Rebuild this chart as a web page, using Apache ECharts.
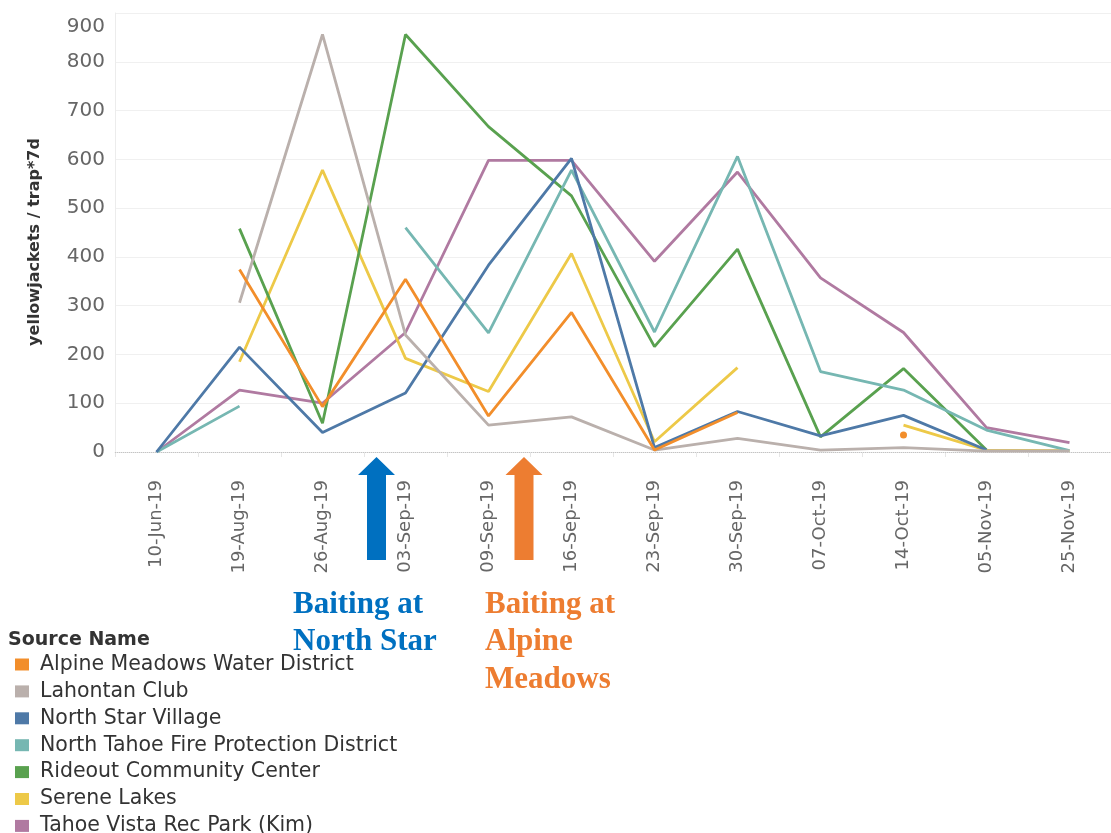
<!DOCTYPE html>
<html>
<head>
<meta charset="utf-8">
<script src="https://cdn.jsdelivr.net/npm/echarts@6/dist/echarts.min.js"></script>
<style>
  html, body { margin: 0; padding: 0; background: #fff; }
  #chart { width: 1111px; height: 833px; }
</style>
</head>
<body>
<div id="chart"></div>
<script>
// week labels
const categories = ['10-Jun-19', '19-Aug-19', '26-Aug-19', '03-Sep-19', '09-Sep-19', '16-Sep-19',
  '23-Sep-19', '30-Sep-19', '07-Oct-19', '14-Oct-19', '05-Nov-19', '25-Nov-19'];

// yellowjackets / trap*7d per site (null = no sample)
const alpineMeadows = [null, 374, 93, 354, 74, 286, 4, 81, null, 35, null, null];
const lahontanClub = [null, 306, 856, 240, 55, 72, 4, 28, 4, 9, 2, 2];
const northStar = [0, 215, 40, 121, 383, 602, 9, 83, 33, 75, 4, null];
const northTahoeFire = [0, 94, null, 460, 244, 578, 246, 606, 165, 127, 45, 3];
const rideout = [null, 458, 59, 856, 667, 525, 216, 416, 31, 171, 4, null];
const sereneLakes = [null, 185, 578, 192, 124, 407, 21, 173, null, 55, 4, 3];
const tahoeVista = [0, 127, 100, 245, 598, 598, 391, 574, 357, 245, 50, 19];

const yTicks = [0, 100, 200, 300, 400, 500, 600, 700, 800, 900];

const sites = [
  { name: 'Alpine Meadows Water District', color: '#F28E2B', values: alpineMeadows },
  { name: 'Lahontan Club', color: '#BAB0AC', values: lahontanClub },
  { name: 'North Star Village', color: '#4E79A7', values: northStar },
  { name: 'North Tahoe Fire Protection District', color: '#76B7B2', values: northTahoeFire },
  { name: 'Rideout Community Center', color: '#59A14F', values: rideout },
  { name: 'Serene Lakes', color: '#EDC948', values: sereneLakes },
  { name: 'Tahoe Vista Rec Park (Kim)', color: '#B07AA1', values: tahoeVista }
];

const font = 'DejaVu Sans';
const serif = '"Liberation Serif", "Times New Roman", serif';

// only lone points (no neighbour on either side) get a dot
function toData(vals) {
  return vals.map((v, i) => {
    const lone = v != null && vals[i - 1] == null && vals[i + 1] == null;
    return { value: v, symbol: lone ? 'circle' : 'none' };
  });
}

const series = sites.map((s, i) => ({
  name: s.name,
  type: 'line',
  data: toData(s.values),
  color: s.color,
  z: 10 - i,
  symbol: 'circle',
  symbolSize: 7,
  showSymbol: true,
  connectNulls: false,
  lineStyle: { width: 2.8, color: s.color },
  itemStyle: { color: s.color },
  emphasis: { disabled: true }
}));

series[0].markLine = {
  silent: true,
  symbol: ['none', 'none'],
  label: { show: false },
  lineStyle: { type: 'dotted', color: '#c4c4c4', width: 1 },
  data: [{ yAxis: 0 }]
};

const chart = echarts.init(document.getElementById('chart'));
chart.setOption({
  animation: false,
  backgroundColor: '#fff',
  grid: { left: 115, right: -16, top: 13, bottom: 381 },
  title: {
    text: 'Source Name',
    left: 3,
    top: 626,
    textStyle: { fontFamily: font, fontSize: 19, fontWeight: 'bold', color: '#333' }
  },
  legend: {
    orient: 'vertical',
    left: 10,
    top: 649,
    height: 200,
    icon: 'rect',
    itemWidth: 14,
    itemHeight: 12,
    itemGap: 5.9,
    selectedMode: false,
    data: sites.map(s => s.name),
    textStyle: { fontFamily: font, fontSize: 20.5, color: '#333', lineHeight: 20, padding: [0, 0, 0, 6] }
  },
  xAxis: {
    type: 'category',
    data: categories,
    boundaryGap: true,
    offset: 21,
    axisLine: { show: true, lineStyle: { color: '#e6e6e6' } },
    axisTick: { show: true, length: 5, lineStyle: { color: '#e6e6e6' } },
    axisLabel: {
      rotate: 90,
      interval: 0,
      margin: 7,
      fontFamily: font,
      fontSize: 18,
      color: '#666'
    },
    splitLine: { show: false }
  },
  yAxis: {
    type: 'value',
    min: yTicks[0],
    max: yTicks[yTicks.length - 1],
    interval: 100,
    axisLine: { show: true, lineStyle: { color: '#ececec' } },
    axisTick: { show: false },
    axisLabel: {
      margin: 10,
      fontFamily: font,
      fontSize: 20,
      color: '#666',
      formatter: v => (v === 900 ? '{top|900}' : String(v)),
      rich: { top: { fontFamily: font, fontSize: 20, color: '#666', padding: [28, 0, 0, 0] } }
    },
    splitLine: { show: true, showMinLine: false, lineStyle: { color: '#f0f0f0', width: 1 } }
  },
  graphic: [
    {
      type: 'text',
      x: 35,
      y: 242,
      rotation: Math.PI / 2,
      style: {
        text: 'yellowjackets / trap*7d',
        fontFamily: font,
        fontSize: 16,
        fontWeight: 'bold',
        fill: '#333',
        align: 'center',
        verticalAlign: 'middle'
      }
    },
    {
      type: 'polygon',
      shape: { points: [[376.5, 457], [395, 475], [386, 475], [386, 560], [367, 560], [367, 475], [358, 475]] },
      style: { fill: '#0070C0' }
    },
    {
      type: 'polygon',
      shape: { points: [[524, 457], [542.5, 475], [533.5, 475], [533.5, 560], [514.5, 560], [514.5, 475], [505.5, 475]] },
      style: { fill: '#ED7D31' }
    },
    {
      type: 'text',
      x: 293,
      y: 586,
      style: {
        text: 'Baiting at\nNorth Star',
        fontFamily: serif,
        fontSize: 31,
        fontWeight: 'bold',
        lineHeight: 37,
        fill: '#0070C0',
        align: 'left',
        verticalAlign: 'top'
      }
    },
    {
      type: 'text',
      x: 485,
      y: 586,
      style: {
        text: 'Baiting at\nAlpine\nMeadows',
        fontFamily: serif,
        fontSize: 31,
        fontWeight: 'bold',
        lineHeight: 37.5,
        fill: '#ED7D31',
        align: 'left',
        verticalAlign: 'top'
      }
    }
  ],
  series: series
});
</script>
</body>
</html>
